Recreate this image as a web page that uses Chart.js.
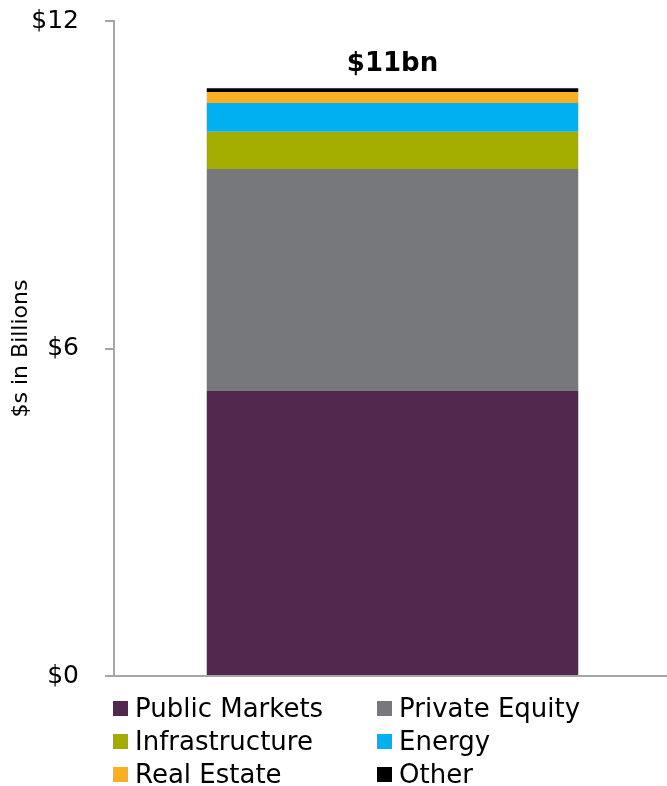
<!DOCTYPE html>
<html>
<head>
<meta charset="utf-8">
<script src="https://cdn.jsdelivr.net/npm/chart.js@4"></script>
<style>
  html,body{margin:0;padding:0;background:#fff;}
  #wrap{position:relative;width:667px;height:786px;overflow:hidden;font-family:"DejaVu Sans",Verdana,sans-serif;}
  #c{position:absolute;left:0;top:-20px;}
  #legend{position:absolute;left:113px;top:693px;display:grid;grid-template-columns:264px 260px;row-gap:3px;}
  .li{display:flex;align-items:center;font-size:26px;color:#000;height:30px;white-space:nowrap;}
  .sw{width:15px;height:15px;margin-right:7px;flex:none;}
</style>
</head>
<body>
<div id="wrap">
  <canvas id="c" width="671" height="737"></canvas>
  <div id="legend"></div>
</div>
<script>
const categories = [""];
const seriesNames = ["Public Markets", "Private Equity", "Infrastructure", "Energy", "Real Estate", "Other"];
const publicMarkets = [5.22];
const privateEquity = [4.07];
const infrastructure = [0.68];
const energy = [0.53];
const realEstate = [0.20];
const other = [0.07];
const totalLabels = ["$11bn"];
const yTicks = [0, 6, 12];

const colors = ["#52284F", "#77787B", "#A3AD00", "#00B0F0", "#F8B022", "#000000"];
const values = [publicMarkets, privateEquity, infrastructure, energy, realEstate, other];

const totalPlugin = {
  id: 'totalLabel',
  afterDatasetsDraw(chart) {
    const ctx = chart.ctx;
    const y = chart.scales.y;
    const x = chart.scales.x;
    categories.forEach((c, i) => {
      let total = 0;
      chart.data.datasets.forEach(ds => total += ds.data[i]);
      const px = x.getPixelForValue(i);
      const py = y.getPixelForValue(total);
      ctx.save();
      ctx.font = 'bold 26px "DejaVu Sans", Verdana, sans-serif';
      ctx.fillStyle = '#000';
      ctx.textAlign = 'center';
      ctx.textBaseline = 'bottom';
      ctx.fillText(totalLabels[i], px, py - 11);
      ctx.restore();
    });
  }
};

const chart = new Chart(document.getElementById('c'), {
  type: 'bar',
  data: {
    labels: categories,
    datasets: seriesNames.map((n, k) => ({
      label: n,
      data: values[k],
      backgroundColor: colors[k],
      borderWidth: 0,
      barPercentage: 0.667,
      categoryPercentage: 1.0
    }))
  },
  options: {
    responsive: false,
    animation: false,
    layout: { padding: { top: 0, right: 0, bottom: 0, left: 8 } },
    plugins: { legend: { display: false }, tooltip: { enabled: false } },
    scales: {
      x: {
        stacked: true,
        grid: { display: false, drawTicks: false },
        border: { color: '#A6A6A6', width: 2 },
        ticks: { display: false }
      },
      y: {
        stacked: true,
        min: 0, max: 12,
        afterBuildTicks: (s) => { s.ticks = yTicks.map(v => ({ value: v })); },
        afterFit: (s) => { s.width = 106; },
        ticks: {
          callback: v => '$' + v,
          color: '#000',
          font: { size: 25, family: '"DejaVu Sans", Verdana, sans-serif' },
          padding: 26
        },
        grid: { display: true, drawOnChartArea: false, drawTicks: true, tickLength: 9, color: '#A6A6A6', lineWidth: 2 },
        border: { color: '#A6A6A6', width: 2 },
        title: {
          display: true,
          text: '$s in Billions',
          color: '#000',
          font: { size: 22, family: '"DejaVu Sans", Verdana, sans-serif' },
          padding: { top: 0, bottom: 0 }
        }
      }
    }
  },
  plugins: [totalPlugin]
});

const leg = document.getElementById('legend');
chart.data.datasets.forEach(ds => {
  const d = document.createElement('div');
  d.className = 'li';
  const s = document.createElement('span');
  s.className = 'sw';
  s.style.background = ds.backgroundColor;
  d.appendChild(s);
  d.appendChild(document.createTextNode(ds.label));
  leg.appendChild(d);
});
</script>
</body>
</html>
